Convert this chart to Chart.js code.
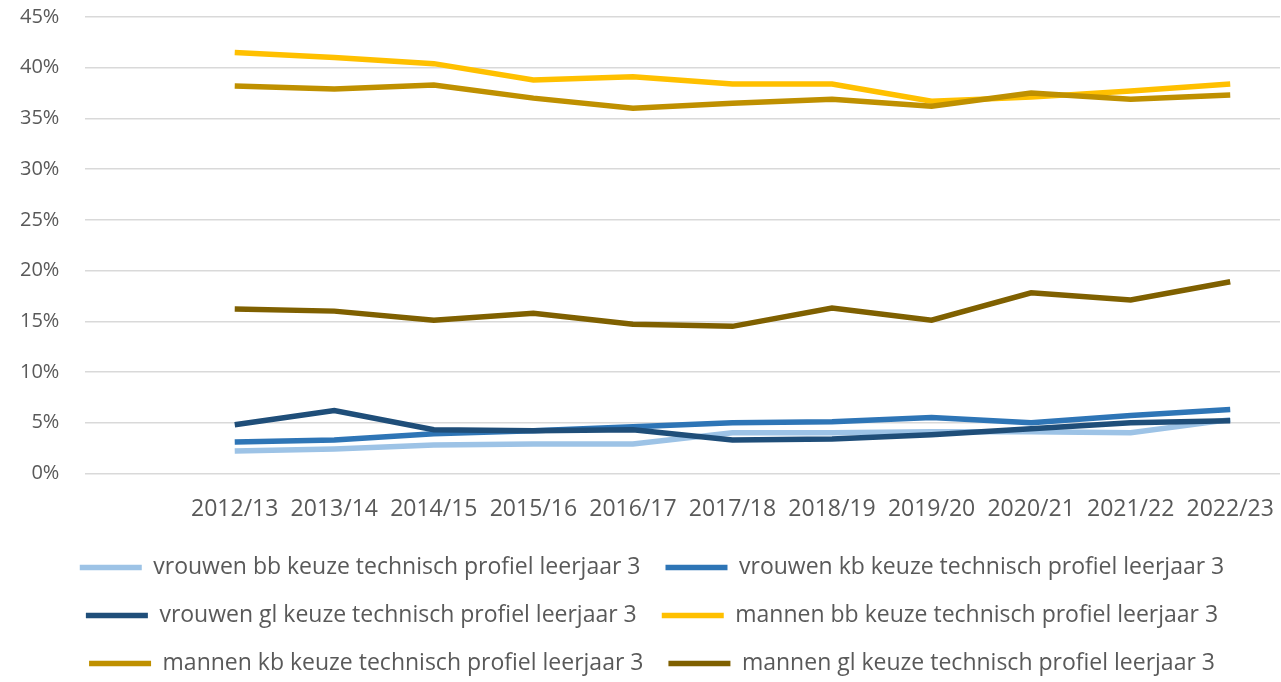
<!DOCTYPE html>
<html>
<head>
<meta charset="utf-8">
<script src="https://cdn.jsdelivr.net/npm/chart.js@4/dist/chart.umd.min.js"></script>
<style>
  html, body { margin: 0; padding: 0; background: #fff; }
  #wrap { width: 1281px; height: 682px; }
</style>
</head>
<body>
<div id="wrap"><canvas id="chart"></canvas></div>
<script>
// schooljaren (eerste categorie is leeg, zoals in het origineel)
const years = ["", "2012/13", "2013/14", "2014/15", "2015/16", "2016/17", "2017/18",
  "2018/19", "2019/20", "2020/21", "2021/22", "2022/23"];

// percentages
const vrouwenBB = [2.2, 2.4, 2.8, 2.9, 2.9, 4.0, 4.0, 4.1, 4.1, 4.0, 5.3];
const vrouwenKB = [3.1, 3.3, 3.9, 4.2, 4.6, 5.0, 5.1, 5.5, 5.0, 5.7, 6.3];
const vrouwenGL = [4.8, 6.2, 4.3, 4.2, 4.3, 3.3, 3.4, 3.8, 4.4, 5.0, 5.2];
const mannenBB = [41.5, 41.0, 40.4, 38.8, 39.1, 38.4, 38.4, 36.7, 37.1, 37.7, 38.4];
const mannenKB = [38.2, 37.9, 38.3, 37.0, 36.0, 36.5, 36.9, 36.2, 37.5, 36.9, 37.3];
const mannenGL = [16.2, 16.0, 15.1, 15.8, 14.7, 14.5, 16.3, 15.1, 17.8, 17.1, 18.9];

const yTicks = [0, 5, 10, 15, 20, 25, 30, 35, 40, 45];

const series = [
  { label: "vrouwen bb keuze technisch profiel leerjaar 3", values: vrouwenBB, color: "#9DC3E6" },
  { label: "vrouwen kb keuze technisch profiel leerjaar 3", values: vrouwenKB, color: "#2E75B6" },
  { label: "vrouwen gl keuze technisch profiel leerjaar 3", values: vrouwenGL, color: "#1F4E79" },
  { label: "mannen bb keuze technisch profiel leerjaar 3", values: mannenBB, color: "#FFC000" },
  { label: "mannen kb keuze technisch profiel leerjaar 3", values: mannenKB, color: "#BF9000" },
  { label: "mannen gl keuze technisch profiel leerjaar 3", values: mannenGL, color: "#7F6000" }
];

const textColor = "#595959";
const fontFamily = "'Open Sans', sans-serif";

const datasets = series.map((s, i) => ({
  label: s.label,
  data: [null].concat(s.values),
  borderColor: s.color,
  backgroundColor: s.color,
  borderWidth: 5.5,
  pointRadius: 0,
  pointHoverRadius: 0,
  tension: 0,
  fill: false,
  // latere reeksen bovenop tekenen, zoals in Excel
  order: series.length - i
}));

// legenda iets naar rechts, zoals in het origineel
const legendShift = {
  id: "legendShift",
  afterLayout(chart) {
    chart.legend.left += 15;
    chart.legend.right += 15;
  }
};

const ctx = document.getElementById("chart").getContext("2d");
new Chart(ctx, {
  type: "line",
  data: { labels: years, datasets: datasets },
  plugins: [legendShift],
  options: {
    responsive: true,
    maintainAspectRatio: false,
    animation: false,
    layout: { padding: { left: -6, right: 1, top: 0, bottom: -3 } },
    plugins: {
      tooltip: { enabled: false },
      legend: {
        position: "bottom",
        labels: {
          usePointStyle: true,
          pointStyle: "line",
          pointStyleWidth: 62,
          color: textColor,
          padding: 25,
          font: { family: fontFamily, size: 23 },
          sort: (a, b) => a.datasetIndex - b.datasetIndex
        }
      }
    },
    scales: {
      x: {
        offset: true,
        grid: { display: false },
        border: { display: false },
        afterFit: (scale) => {
          scale.height -= 6;
          scale.paddingLeft = 0;
          scale.paddingRight = 0;
        },
        ticks: {
          color: textColor,
          padding: 14,
          maxRotation: 0,
          autoSkip: false,
          font: { family: fontFamily, size: 23 }
        }
      },
      y: {
        min: 0,
        max: 45,
        afterBuildTicks: (axis) => { axis.ticks = yTicks.map(v => ({ value: v })); },
        afterFit: (scale) => { scale.paddingTop = 17; },
        grid: { color: "#D9D9D9", lineWidth: 1.5, drawTicks: false },
        border: { display: false },
        ticks: {
          color: textColor,
          padding: 26,
          font: { family: fontFamily, size: 20 },
          callback: (v) => v + "%"
        }
      }
    }
  }
});
</script>
</body>
</html>
